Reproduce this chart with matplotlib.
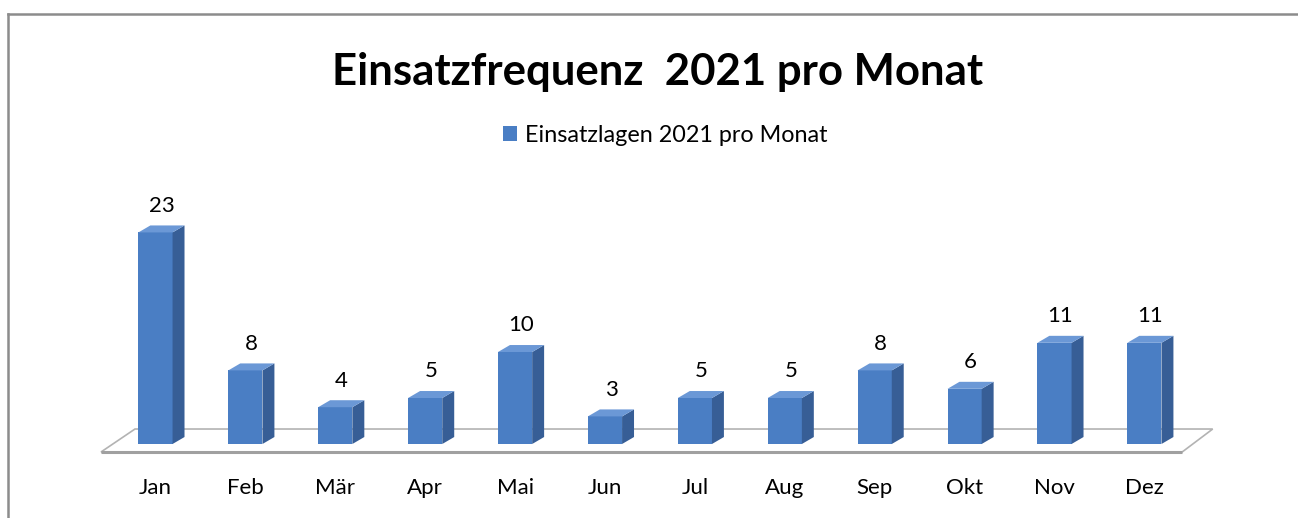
# Einsatzfrequenz 2021 - Säulen mit 3D-Optik (Office-Stil)

import matplotlib.pyplot as plt
from matplotlib.patches import Polygon
from matplotlib.lines import Line2D

months = ['Jan', 'Feb', 'Mär', 'Apr', 'Mai', 'Jun', 'Jul', 'Aug', 'Sep', 'Okt', 'Nov', 'Dez']
einsaetze = [23, 8, 4, 5, 10, 3, 5, 5, 8, 6, 11, 11]

title = 'Einsatzfrequenz  2021 pro Monat'
series_name = 'Einsatzlagen 2021 pro Monat'

plt.rcParams['font.family'] = ['Lato', 'DejaVu Sans']

W, H = 1298, 518
fig = plt.figure(figsize=(W / 100, H / 100), dpi=100)

# axes: 60..1260 px horizontally, 180..480 px from top
ax = fig.add_axes([60 / W, 1 - 480 / H, 1200 / W, 300 / H])
ax.set_xlim(-1.062, 12.286)
ax.set_ylim(-3.913, 28.70)
ax.axis('off')

x = list(range(len(months)))
w = 0.38      # front face width
dx = 0.133    # depth offset x
dy = 0.76     # depth offset y

front = '#4a7ec4'
side = '#375e96'
top = '#6b98d6'

# floor
n = len(months)
floor = Polygon([(-0.606, -0.87), (n - 1 + 0.42, -0.87), (n - 1 + 0.76, 1.63), (-0.228, 1.63)],
                closed=True, facecolor='white', edgecolor='#b3b3b3', lw=1.2, zorder=1)
ax.add_patch(floor)
ax.plot([-0.606, n - 1 + 0.42], [-0.87, -0.87], color='#a0a0a0', lw=2.2, zorder=1.5,
        solid_capstyle='butt')

bars = ax.bar(x, einsaetze, width=w, color=front, zorder=3, label=series_name)

for xi, v in zip(x, einsaetze):
    r = xi + w / 2
    l = xi - w / 2
    ax.add_patch(Polygon([(r, 0), (r + dx, dy), (r + dx, v + dy), (r, v)],
                         closed=True, facecolor=side, edgecolor='none', zorder=3))
    ax.add_patch(Polygon([(l, v), (r, v), (r + dx, v + dy), (l + dx, v + dy)],
                         closed=True, facecolor=top, edgecolor='none', zorder=3))
    ax.text(xi + dx / 2, v + 2.9, str(v), ha='center', va='center', fontsize=16, color='black')
    ax.text(xi, -4.78, months[xi], ha='center', va='center', fontsize=16, color='black',
            clip_on=False)

fig.text(658 / W, 1 - 72 / H, title, ha='center', va='center', fontsize=31.5,
         fontweight='bold', color='black')

fig.legend(handles=[bars], labels=[series_name], loc='center', bbox_to_anchor=(665 / W, 1 - 135 / H),
           frameon=False, fontsize=16.8, handlelength=0.6, handleheight=0.6, handletextpad=0.35)

# chart border (top and left visible)
fig.add_artist(Line2D([7.5 / W, 1], [1 - 13.5 / H, 1 - 13.5 / H], color='#8c8c8c', lw=1.8))
fig.add_artist(Line2D([7.5 / W, 7.5 / W], [1 - 13.5 / H, 0], color='#8c8c8c', lw=1.8))

fig.savefig('out.png', dpi=100)
